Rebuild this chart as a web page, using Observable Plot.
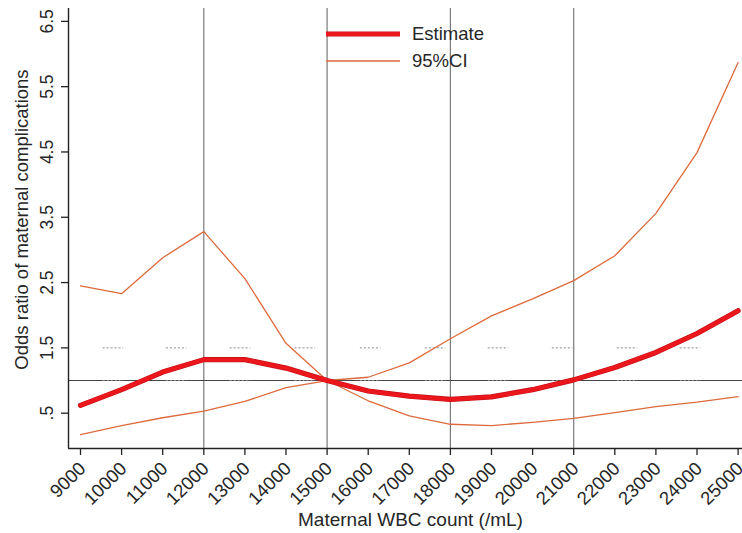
<!DOCTYPE html>
<html><head><meta charset="utf-8">
<script src="https://cdn.jsdelivr.net/npm/d3@7"></script>
<script src="https://cdn.jsdelivr.net/npm/@observablehq/plot@0.6"></script>
<style>
body{margin:0;background:#fff;}
#wrap{position:relative;width:742px;height:533px;font-family:"Liberation Sans",Arial,sans-serif;}
#legend{position:absolute;left:0;top:0;}
</style></head><body><div id="wrap"></div>
<script>
const wbc = [9000,10000,11000,12000,13000,14000,15000,16000,17000,18000,19000,20000,21000,22000,23000,24000,25000];
const estimate = [0.62,0.86,1.13,1.32,1.32,1.19,1.0,0.84,0.76,0.71,0.75,0.86,1.01,1.2,1.43,1.72,2.07];
const ciUpper = [2.45,2.33,2.88,3.28,2.56,1.57,1.0,1.05,1.27,1.64,1.99,2.25,2.53,2.91,3.56,4.49,5.87];
const ciLower = [0.17,0.31,0.43,0.53,0.68,0.89,1.0,0.69,0.46,0.33,0.31,0.36,0.42,0.51,0.6,0.67,0.755];
const xTicks = [9000,10000,11000,12000,13000,14000,15000,16000,17000,18000,19000,20000,21000,22000,23000,24000,25000];
const yTicks = [0.5,1.5,2.5,3.5,4.5,5.5,6.5];
const yTickLabels = [".5","1.5","2.5","3.5","4.5","5.5","6.5"];
const refX = [12000,15000,18000,21000];
const refY = [1];
const dashCenters = [9800,11340,12890,14470,16060,17640,19170,20730,22310,23840];
const dashLevels = [1.5,1.0];
const dashHalf = 250;
const xLabel = "Maternal WBC count (/mL)";
const yLabel = "Odds ratio of maternal complications";
const seriesNames = ["Estimate","95%CI"];

const xDomain = [8708, 25107];
const yDomain = [-0.041, 6.697];

const rows = wbc.map((x,i)=>({x, est: estimate[i], hi: ciUpper[i], lo: ciLower[i]}));
const dashes = [];
for (const lv of dashLevels) for (const c of dashCenters) dashes.push({y: lv, x1: c - dashHalf, x2: c + dashHalf});

const estColor = "#ec161d", estEdge = "#c41016", ciColor = "#dd6a3c";
const font = `"Liberation Sans", Arial, sans-serif`;
const textColor = "#262626";

const chart = Plot.plot({
  width: 742, height: 533,
  marginLeft: 68, marginRight: 0, marginTop: 8, marginBottom: 85,
  style: {fontFamily: font, background: "#fff", overflow: "visible"},
  x: {domain: xDomain},
  y: {domain: yDomain},
  marks: [
    Plot.ruleX(refX, {x: d=>d, stroke: "#7a7a7a", strokeWidth: 1.2}),
    Plot.ruleY(refY, {y: d=>d, x1: xDomain[0], x2: xDomain[1], stroke: "#444", strokeWidth: 1.2}),
    Plot.ruleY(dashes, {y: "y", x1: "x1", x2: "x2", stroke: "#8a8a8a", strokeWidth: 1, strokeDasharray: "2,2"}),
    Plot.line(rows, {x: "x", y: "hi", stroke: ciColor, strokeWidth: 1.3}),
    Plot.line(rows, {x: "x", y: "lo", stroke: ciColor, strokeWidth: 1.3}),
    Plot.line(rows, {x: "x", y: "est", stroke: estEdge, strokeWidth: 5.2}),
    Plot.line(rows, {x: "x", y: "est", stroke: estColor, strokeWidth: 4}),
    Plot.ruleX([xDomain[0]], {x: d=>d, stroke: "#222", strokeWidth: 1.4}),
    Plot.ruleY([yDomain[0]], {y: d=>d, stroke: "#222", strokeWidth: 1.4}),
    Plot.axisX({ticks: xTicks, tickSize: 7, tickFormat: () => "", stroke: "#222", strokeWidth: 1.3, label: null}),
    Plot.axisY({ticks: yTicks, tickSize: 7, tickFormat: () => "", stroke: "#222", strokeWidth: 1.3, label: null}),
    Plot.text(xTicks, {x: d=>d, y: yDomain[0], text: d=>String(d), rotate: -45, textAnchor: "end", dx: 2, dy: 17, fontSize: 18.5, fill: textColor}),
    Plot.text(yTicks, {x: xDomain[0], y: d=>d, text: (d,i)=>yTickLabels[i], rotate: -90, dx: -21, fontSize: 17.5, fill: textColor}),
    Plot.text([yLabel], {frameAnchor: "left", textAnchor: "middle", text: d=>d, rotate: -90, dx: -46, dy: -9, fontSize: 18.5, fill: textColor}),
    Plot.text([xLabel], {frameAnchor: "bottom", textAnchor: "middle", text: d=>d, dx: 5, dy: 77, fontSize: 19, fill: textColor})
  ]
});
const wrap = document.getElementById("wrap");
wrap.appendChild(chart);

const ns = "http://www.w3.org/2000/svg";
const leg = document.createElementNS(ns, "svg");
leg.setAttribute("id","legend");
leg.setAttribute("width", 742); leg.setAttribute("height", 80);
const items = [
  {name: seriesNames[0], y: 34, strokes: [[estEdge,5.2],[estColor,4]]},
  {name: seriesNames[1], y: 61, strokes: [[ciColor,1.3]]}
];
for (const it of items) {
  for (const [c,w] of it.strokes) {
    const l = document.createElementNS(ns,"line");
    l.setAttribute("x1",326); l.setAttribute("x2",400);
    l.setAttribute("y1",it.y); l.setAttribute("y2",it.y);
    l.setAttribute("stroke",c); l.setAttribute("stroke-width",w);
    leg.appendChild(l);
  }
  const t = document.createElementNS(ns,"text");
  t.setAttribute("x",412); t.setAttribute("y",it.y);
  t.setAttribute("dy","0.35em");
  t.setAttribute("font-size",18.5);
  t.setAttribute("font-family",font);
  t.setAttribute("fill",textColor);
  t.textContent = it.name;
  leg.appendChild(t);
}
wrap.appendChild(leg);
</script></body></html>
